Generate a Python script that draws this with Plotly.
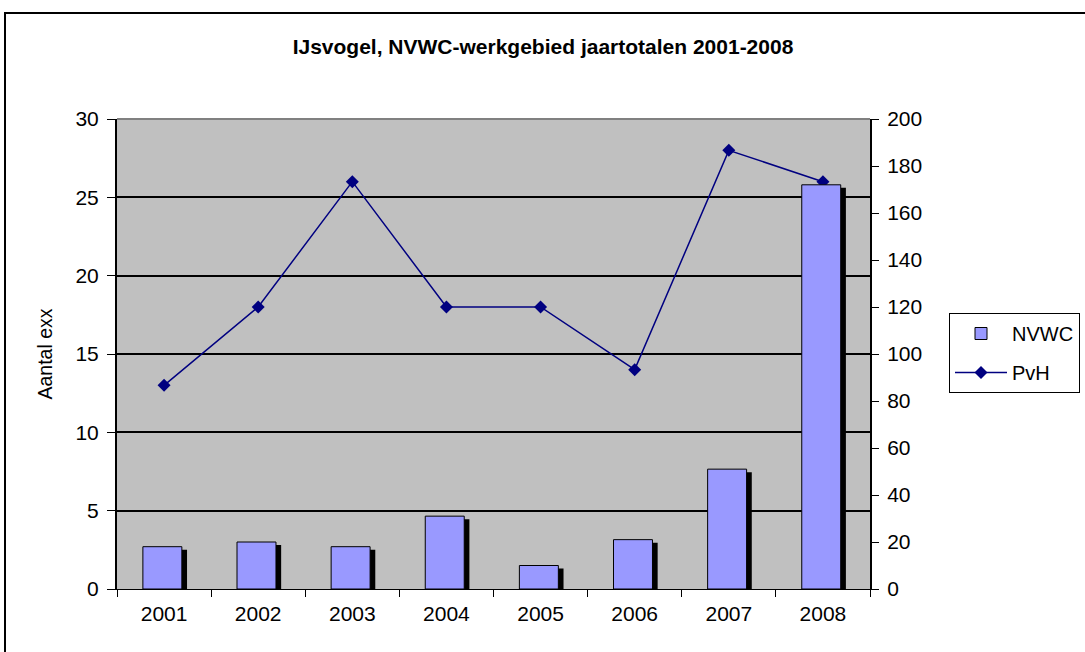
import plotly.graph_objects as go

years = ["2001", "2002", "2003", "2004", "2005", "2006", "2007", "2008"]
nvwc = [18, 20, 18, 31, 10, 21, 51, 172]
pvh = [13, 18, 26, 18, 18, 14, 28, 26]

W, H = 1085, 652
ML, MR, MT, MB = 117, 215, 119, 63
PW = W - ML - MR
PH = H - MT - MB

y2max = 200
shadow_drop = y2max / PH * 3  # 3px drop of the shadow
shadow_vals = [v - shadow_drop for v in nvwc]

bar_w = 0.414
bar_off = -0.225
shadow_off = bar_off + 0.055

fig = go.Figure()
fig.add_trace(go.Bar(
    x=years, y=shadow_vals, yaxis="y2", width=bar_w, offset=shadow_off,
    marker=dict(color="black", line=dict(width=0)), showlegend=False,
    hoverinfo="skip"))
fig.add_trace(go.Bar(
    x=years, y=nvwc, yaxis="y2", width=bar_w, offset=bar_off, name="NVWC",
    marker=dict(color="#9999FF", line=dict(color="black", width=1)),
    legendgroup="a"))
fig.add_trace(go.Scatter(
    x=years, y=pvh, mode="lines+markers", name="PvH",
    line=dict(color="#000080", width=1.5),
    marker=dict(symbol="diamond", size=10, color="#000080"),
    legendgroup="b"))

font_family = "Liberation Sans, Arial, sans-serif"

fig.update_layout(
    width=W, height=H,
    margin=dict(l=ML, r=MR, t=MT, b=MB, autoexpand=False),
    paper_bgcolor="white", plot_bgcolor="#C0C0C0",
    barmode="overlay",
    font=dict(family=font_family, color="black", size=20),
    title=dict(text="<b>IJsvogel, NVWC-werkgebied jaartotalen 2001-2008</b>",
               x=543 / W, xanchor="center", y=1 - 47 / H, yanchor="middle",
               font=dict(size=21, family=font_family)),
    xaxis=dict(type="category", tickson="boundaries", ticks="outside",
               ticklen=7, tickcolor="black", showline=True, linecolor="black",
               linewidth=1, showgrid=False, tickfont=dict(size=21),
               ticklabelstandoff=6, range=[-0.5, 7.5]),
    yaxis=dict(range=[0, 30], dtick=5, ticks="outside", ticklen=8,
               tickcolor="black", showline=True, linecolor="black",
               linewidth=2, showgrid=True, gridcolor="black", gridwidth=1.5,
               zeroline=False, tickfont=dict(size=21), ticklabelstandoff=4,
               title=dict(text="Aantal exx", font=dict(size=19.5), standoff=18)),
    yaxis2=dict(range=[0, y2max], dtick=20, overlaying="y", side="right",
                ticks="outside", ticklen=7, tickcolor="black", showline=True,
                linecolor="black", linewidth=2, showgrid=False, zeroline=False,
                tickfont=dict(size=21), ticklabelstandoff=4),
    legend=dict(x=(949 - ML) / PW, xanchor="left",
                y=(H - MB - 313) / PH, yanchor="top",
                bordercolor="black", borderwidth=1, bgcolor="white",
                font=dict(size=20), traceorder="grouped", tracegroupgap=10,
                itemwidth=52),
    shapes=[
        dict(type="line", xref="paper", yref="paper", x0=0, x1=1, y0=1, y1=1,
             line=dict(color="#808080", width=2)),
        dict(type="rect", xref="paper", yref="paper",
             x0=(5 - ML) / PW, x1=(W + 10 - ML) / PW,
             y0=(H - MB - (H + 10)) / PH, y1=(H - MB - 13) / PH,
             line=dict(color="black", width=2), fillcolor="rgba(0,0,0,0)",
             layer="above"),
    ],
)

fig.write_html("out.html",
               config={"displayModeBar": False},
               post_script="document.body.style.margin='0';"
                           "document.body.style.overflow='hidden';")
